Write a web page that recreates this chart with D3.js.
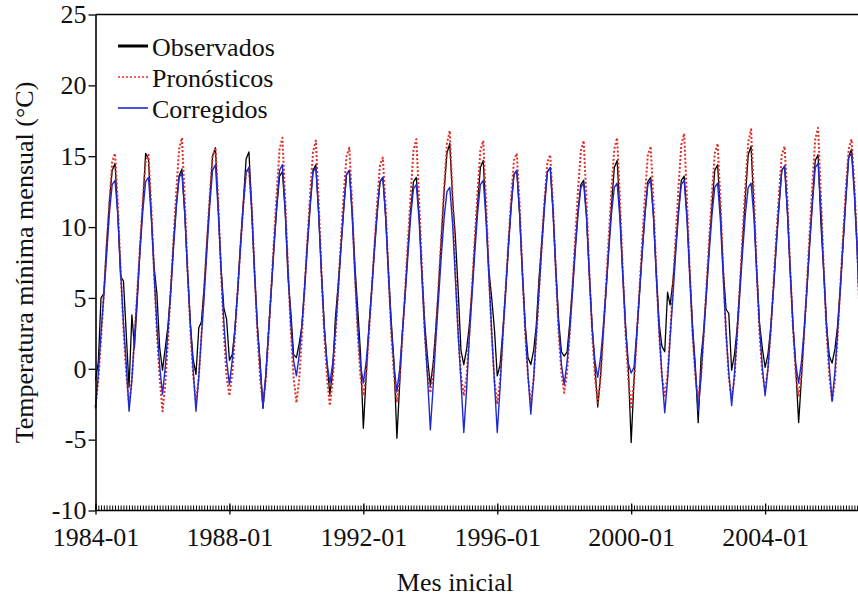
<!DOCTYPE html>
<html>
<head>
<meta charset="utf-8">
<script src="https://cdn.jsdelivr.net/npm/d3@7"></script>
<style>
  html, body { margin: 0; padding: 0; background: #fff; }
  svg { display: block; font-family: "Liberation Serif", "Times New Roman", serif; }
</style>
</head>
<body>
<svg id="chart" width="858" height="604"></svg>
<script>
// ---------- DATA (monthly, Jan 1984 .. Dec 2006) ----------
const startMonth = "1984-01";
const seriesNames = ["Observados", "Pronósticos", "Corregidos"];
const seriesColors = ["#000000", "#e0302a", "#1e2ad0"];
const yTickValues = [-10, -5, 0, 5, 10, 15, 20, 25];
const xTickLabels = ["1984-01", "1988-01", "1992-01", "1996-01", "2000-01", "2004-01"];

const observados = [
  -0.8, 0.5, 5.0, 5.3, 8.8, 11.8, 14.0, 14.5, 10.8, 6.5, 6.2, 2.5,
  -1.3, 3.8, 1.5, 4.8, 8.6, 11.7, 15.2, 14.8, 10.8, 7.2, 5.3, 1.5,
  -0.1, 1.5, 3.0, 5.6, 8.9, 11.6, 13.6, 14.1, 11.0, 6.9, 3.2, 0.7,
  -0.4, 2.9, 3.3, 5.8, 9.0, 12.0, 15.0, 15.6, 11.4, 7.2, 4.3, 3.5,
  0.6, 1.0, 2.8, 5.6, 8.8, 11.8, 14.8, 15.3, 11.2, 6.8, 3.0, 0.5,
  -2.8, -0.5, 2.4, 5.5, 8.7, 11.4, 13.6, 13.9, 11.0, 6.5, 4.0, 1.0,
  0.8, 1.8, 3.0, 5.8, 8.9, 11.7, 14.0, 14.4, 10.9, 6.8, 3.0, 0.3,
  -1.8, -0.2, 3.5, 5.9, 8.5, 11.3, 13.7, 14.0, 11.1, 7.3, 4.2, 1.1,
  -4.2, -0.5, 2.9, 5.6, 8.5, 11.2, 13.2, 13.5, 10.7, 6.9, 3.3, 0.4,
  -4.9, -1.0, 2.5, 5.3, 8.4, 11.3, 13.2, 13.5, 10.8, 6.8, 3.2, 0.8,
  -1.2, 0.4, 2.8, 5.8, 9.2, 12.6, 15.2, 15.9, 12.0, 9.3, 5.5, 1.3,
  0.3, 1.4, 3.0, 5.6, 8.8, 11.7, 14.2, 14.7, 10.8, 7.0, 5.0, 2.8,
  -0.5, 0.3, 2.6, 5.5, 8.6, 11.6, 13.7, 14.0, 10.9, 6.8, 3.1, 0.8,
  0.3, 1.3, 3.0, 6.4, 9.0, 11.8, 13.9, 14.2, 11.1, 7.0, 3.4, 1.2,
  0.9, 1.2, 3.2, 5.8, 8.6, 11.2, 13.0, 13.3, 10.8, 6.8, 3.0, 0.2,
  -2.7, -0.5, 2.4, 5.4, 8.5, 11.6, 14.2, 14.7, 10.9, 6.8, 3.0, 0.0,
  -5.2, -0.8, 2.3, 5.4, 8.4, 11.1, 13.2, 13.5, 10.7, 6.7, 3.2, 1.6,
  1.2, 5.4, 4.5, 6.2, 8.6, 11.2, 13.3, 13.6, 10.8, 6.8, 3.0, 0.2,
  -3.8, 0.8, 2.6, 5.5, 8.6, 11.5, 14.0, 14.4, 11.1, 7.0, 4.2, 3.9,
  -0.1, 1.0, 2.8, 5.8, 9.0, 12.2, 15.1, 15.7, 11.3, 7.0, 3.2, 1.5,
  0.1, 1.0, 2.8, 5.6, 8.7, 11.6, 14.0, 14.3, 11.0, 6.9, 3.0, 0.0,
  -3.8, -0.6, 2.4, 5.6, 8.9, 12.0, 14.7, 15.1, 10.2, 6.9, 3.1, 0.9,
  0.4, 1.4, 3.0, 5.8, 9.0, 12.2, 15.0, 15.5, 12.6, 8.6, 3.2, 0.6
];

const pronosticos = [
  -2.7, -0.8, 2.0, 5.3, 8.6, 11.8, 14.6, 15.2, 11.6, 7.0, 2.8, -0.3,
  -2.5, -0.7, 2.1, 5.5, 8.8, 12.0, 14.6, 15.1, 11.4, 6.8, 2.5, -0.6,
  -3.0, -1.0, 2.0, 5.6, 9.1, 12.6, 15.5, 16.3, 11.9, 7.1, 2.7, -0.4,
  -2.3, -0.6, 2.2, 5.7, 9.0, 12.3, 15.0, 15.6, 11.8, 7.0, 2.6, -0.5,
  -1.9, -0.3, 2.4, 5.6, 8.7, 11.6, 13.8, 14.2, 11.4, 6.9, 2.5, -0.7,
  -2.5, -0.8, 2.1, 5.7, 9.1, 12.6, 15.5, 16.3, 11.9, 7.1, 2.6, -0.6,
  -2.4, -0.7, 2.2, 5.8, 9.2, 12.5, 15.3, 16.1, 11.7, 6.9, 2.4, -0.7,
  -2.6, -0.8, 2.1, 5.6, 9.0, 12.3, 15.0, 15.6, 11.6, 6.8, 2.4, -0.6,
  -1.9, -0.4, 2.3, 5.5, 8.7, 11.9, 14.4, 14.9, 11.4, 6.8, 2.5, -0.5,
  -2.3, -0.7, 2.1, 5.6, 9.0, 12.4, 15.4, 16.2, 11.8, 7.1, 2.6, -0.3,
  -1.7, -0.2, 2.4, 5.9, 9.4, 12.9, 15.9, 16.8, 12.0, 7.0, 2.5, -0.5,
  -1.9, -0.5, 2.3, 5.8, 9.2, 12.6, 15.4, 16.1, 11.8, 6.9, 2.4, -0.8,
  -2.5, -0.8, 2.2, 5.6, 8.9, 12.1, 14.7, 15.2, 11.6, 6.9, 2.5, -0.6,
  -2.4, -0.7, 2.2, 5.6, 8.9, 12.0, 14.6, 15.1, 11.5, 6.8, 2.5, -0.3,
  -1.7, -0.2, 2.5, 5.9, 9.3, 12.7, 15.4, 16.1, 11.8, 7.0, 2.5, -0.5,
  -2.4, -0.7, 2.3, 5.9, 9.3, 12.8, 15.5, 16.3, 11.9, 7.0, 2.4, -0.8,
  -2.7, -0.9, 2.1, 5.7, 9.1, 12.4, 15.1, 15.7, 11.7, 6.9, 2.5, -0.5,
  -1.9, -0.4, 2.4, 5.9, 9.4, 12.9, 15.8, 16.6, 11.9, 7.0, 2.4, -0.6,
  -2.0, -0.5, 2.3, 5.8, 9.2, 12.5, 15.2, 15.9, 11.8, 7.0, 2.5, -0.6,
  -2.1, -0.6, 2.3, 5.9, 9.5, 13.0, 16.0, 16.9, 12.1, 7.1, 2.6, -0.3,
  -1.5, 0.0, 2.6, 5.9, 9.2, 12.4, 15.1, 15.7, 11.9, 7.1, 2.7, -0.4,
  -1.9, -0.4, 2.4, 6.0, 9.6, 13.2, 16.2, 17.0, 12.2, 7.2, 2.6, -0.5,
  -2.3, -0.8, 2.2, 5.9, 9.4, 12.8, 15.5, 16.2, 12.9, 8.8, 2.7, -0.3
];

const corregidos = [
  -2.8, -0.3, 2.5, 5.2, 8.0, 11.0, 13.0, 13.3, 10.8, 6.9, 3.2, 0.4,
  -3.0, -0.8, 2.2, 5.3, 8.3, 11.2, 13.2, 13.5, 10.7, 6.8, 3.0, 0.2,
  -1.8, 0.2, 2.6, 5.4, 8.5, 11.4, 13.5, 13.8, 10.9, 6.9, 3.1, 0.0,
  -3.0, -0.6, 2.3, 5.2, 8.4, 11.6, 14.0, 14.4, 11.1, 7.1, 3.3, 0.6,
  -1.1, 0.6, 2.8, 5.6, 8.6, 11.5, 13.9, 14.2, 11.0, 6.8, 3.0, 0.1,
  -2.7, -0.4, 2.4, 5.5, 8.5, 11.6, 14.0, 14.4, 11.2, 7.0, 3.2, 0.6,
  -0.5, 1.0, 3.0, 5.8, 8.7, 11.5, 13.9, 14.2, 10.9, 6.7, 2.9, 0.4,
  -1.0, 0.4, 2.6, 5.4, 8.4, 11.3, 13.7, 14.0, 10.8, 6.6, 3.0, 0.3,
  -1.0, 0.5, 2.7, 5.5, 8.3, 11.0, 13.2, 13.5, 10.6, 6.6, 2.8, 0.2,
  -1.6, 0.0, 2.4, 5.2, 8.0, 10.8, 12.7, 13.0, 10.4, 6.5, 2.6, -0.6,
  -4.3, -1.2, 2.0, 5.0, 8.0, 10.7, 12.5, 12.8, 10.2, 6.4, 2.4, -0.8,
  -4.5, -1.4, 2.1, 5.2, 8.2, 11.0, 13.0, 13.3, 10.5, 6.6, 2.6, -0.9,
  -4.5, -1.3, 2.3, 5.4, 8.5, 11.4, 13.7, 14.0, 10.9, 6.8, 2.9, -0.4,
  -3.2, -0.7, 2.4, 5.5, 8.6, 11.5, 13.9, 14.2, 11.0, 6.9, 3.0, 0.3,
  -1.1, 0.5, 2.6, 5.4, 8.3, 11.0, 12.8, 13.1, 10.6, 6.6, 2.9, 0.6,
  -0.6, 0.8, 2.8, 5.5, 8.3, 11.0, 12.8, 13.1, 10.5, 6.6, 2.9, 0.4,
  -0.3, 0.1, 2.5, 5.3, 8.2, 11.0, 13.0, 13.3, 10.6, 6.6, 2.7, -0.4,
  -3.1, -0.8, 2.2, 5.2, 8.2, 11.0, 13.0, 13.3, 10.5, 6.5, 2.6, -0.2,
  -3.0, -0.6, 2.3, 5.3, 8.2, 10.9, 12.8, 13.1, 10.4, 6.5, 2.6, -0.3,
  -2.6, -0.4, 2.4, 5.4, 8.3, 11.0, 12.8, 13.1, 10.7, 6.8, 3.0, 0.2,
  -1.9, 0.0, 2.6, 5.6, 8.6, 11.5, 14.0, 14.3, 11.0, 6.9, 3.0, 0.3,
  -1.0, 0.5, 2.7, 5.6, 8.7, 11.7, 14.2, 14.5, 11.2, 7.0, 3.1, 0.2,
  -2.3, -0.2, 2.5, 5.6, 8.8, 12.0, 14.9, 15.2, 12.3, 8.4, 3.2, 0.4
];

// ---------- CHART ----------
const W = 858, H = 604;
const plot = { left: 95.5, top: 14.5, bottom: 510.5, monthPx: 2.79, months: 288 };
const svg = d3.select("#chart");
const parseMonth = d3.timeParse("%Y-%m");
const t0 = parseMonth(startMonth);
const dates = observados.map((_, i) => d3.timeMonth.offset(t0, i));

const x = d3.scaleTime()
  .domain([t0, d3.timeMonth.offset(t0, plot.months)])
  .range([plot.left, plot.left + plot.months * plot.monthPx]);
const y = d3.scaleLinear().domain([-10, 25]).range([plot.bottom, plot.top]);

const fontSize = 26;

// top border
svg.append("line")
  .attr("x1", plot.left).attr("x2", W + 5)
  .attr("y1", plot.top).attr("y2", plot.top)
  .attr("stroke", "#000").attr("stroke-width", 1.3);

// series lines
const line = d3.line().x((d, i) => x(dates[i])).y(d => y(d));
const allSeries = [observados, pronosticos, corregidos];
const widths = [1.3, 2.0, 1.4];
const dashes = [null, "2,2", null];
allSeries.forEach((vals, k) => {
  svg.append("path")
    .datum(vals)
    .attr("fill", "none")
    .attr("stroke", seriesColors[k])
    .attr("stroke-width", widths[k])
    .attr("stroke-dasharray", dashes[k])
    .attr("stroke-linejoin", "round")
    .attr("d", line);
});

// x axis: monthly minor ticks inward
const xMinor = d3.axisBottom(x)
  .ticks(d3.timeMonth.every(1))
  .tickSize(-5)
  .tickFormat("");
const gxm = svg.append("g").attr("transform", `translate(0,${plot.bottom})`).call(xMinor);
gxm.select(".domain").remove();
gxm.selectAll(".tick line").attr("stroke", "#000").attr("stroke-width", 1);

// x axis major ticks and labels
const majorDates = xTickLabels.map(s => parseMonth(s));
const xMajor = d3.axisBottom(x)
  .tickValues(majorDates)
  .tickSizeInner(4)
  .tickSizeOuter(0)
  .tickPadding(13)
  .tickFormat((d, i) => xTickLabels[i]);
const gx = svg.append("g").attr("transform", `translate(0,${plot.bottom})`).call(xMajor);
gx.select(".domain").remove();
gx.selectAll(".tick line").attr("y1", -7).attr("stroke", "#000").attr("stroke-width", 1.3);
gx.selectAll(".tick text")
  .attr("font-family", "Liberation Serif, serif")
  .attr("font-size", fontSize).attr("fill", "#111");

svg.append("line")
  .attr("x1", plot.left).attr("x2", W + 5)
  .attr("y1", plot.bottom).attr("y2", plot.bottom)
  .attr("stroke", "#000").attr("stroke-width", 1.6);

// y axis
const yAxis = d3.axisLeft(y)
  .tickValues(yTickValues)
  .tickSizeInner(7)
  .tickSizeOuter(0)
  .tickPadding(2)
  .tickFormat(d => String(d));
const gy = svg.append("g").attr("transform", `translate(${plot.left},0)`).call(yAxis);
gy.select(".domain").attr("stroke", "#000").attr("stroke-width", 1.6);
gy.selectAll(".tick line").attr("stroke", "#000").attr("stroke-width", 1.3);
gy.selectAll(".tick text")
  .attr("font-family", "Liberation Serif, serif")
  .attr("font-size", fontSize).attr("fill", "#111");

// axis titles
svg.append("text")
  .attr("transform", `translate(33,${(plot.top + plot.bottom) / 2}) rotate(-90)`)
  .attr("text-anchor", "middle")
  .attr("font-size", fontSize).attr("fill", "#111")
  .text("Temperatura mínima mensual (°C)");
svg.append("text")
  .attr("x", 455).attr("y", 591)
  .attr("text-anchor", "middle")
  .attr("font-size", fontSize).attr("fill", "#111")
  .text("Mes inicial");

// legend
const legend = svg.append("g").attr("transform", "translate(118,46)");
seriesNames.forEach((name, k) => {
  const g = legend.append("g").attr("transform", `translate(0,${k * 31})`);
  g.append("line")
    .attr("x1", 0).attr("x2", 30).attr("y1", 0).attr("y2", 0)
    .attr("stroke", seriesColors[k])
    .attr("stroke-width", k === 0 ? 3 : 1.6)
    .attr("stroke-dasharray", dashes[k]);
  g.append("text")
    .attr("x", 34).attr("y", 10)
    .attr("font-size", fontSize).attr("fill", "#111")
    .text(name);
});
</script>
</body>
</html>
